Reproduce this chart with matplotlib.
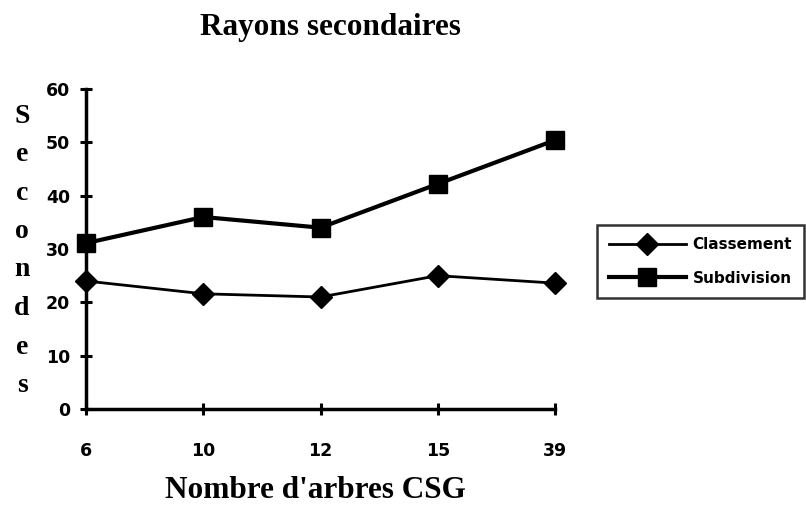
import matplotlib
matplotlib.use("Agg")
import matplotlib.pyplot as plt
from matplotlib.font_manager import FontProperties

categories = ["6", "10", "12", "15", "39"]
classement = [24.0, 21.6, 21.0, 25.0, 23.6]
subdivision = [31.1, 36.0, 34.0, 42.2, 50.4]
y_ticks = [0, 10, 20, 30, 40, 50, 60]
ylabel_letters = list("Secondes")

W, H = 806, 507
fig = plt.figure(figsize=(W / 100, H / 100), dpi=100)
ax = fig.add_axes([86 / W, 98 / H, (555 - 86) / W, (409 - 89) / H])

x = list(range(len(categories)))
ax.plot(x, classement, color="black", lw=2.0, marker="D", markersize=11,
        label="Classement", clip_on=False, zorder=3)
ax.plot(x, subdivision, color="black", lw=3.0, marker="s", markersize=13,
        label="Subdivision", clip_on=False, zorder=3)

ax.set_xlim(0, len(categories) - 1)
ax.set_ylim(0, 60)
ax.set_xticks(x)
ax.set_xticklabels(categories)
ax.set_yticks(y_ticks)

for s in ("top", "right"):
    ax.spines[s].set_visible(False)
for s in ("left", "bottom"):
    ax.spines[s].set_linewidth(2.5)

tick_fp = FontProperties(family="DejaVu Sans", weight="bold", size=12.5)
ax.tick_params(axis="both", direction="inout", length=9, width=2.2)
ax.tick_params(axis="y", pad=7)
ax.tick_params(axis="x", pad=19)
for lab in ax.get_xticklabels() + ax.get_yticklabels():
    lab.set_fontproperties(tick_fp)

fig.text(330 / W, 1 - 28 / H, "Rayons secondaires", ha="center", va="center",
         family="Liberation Serif", weight="bold", size=22.5)
fig.text(315 / W, 1 - 490 / H, "Nombre d'arbres CSG", ha="center", va="center",
         family="Liberation Serif", weight="bold", size=22.5)

y0, step = 116, 38.5
for i, ch in enumerate(ylabel_letters):
    fig.text(22 / W, 1 - (y0 + i * step) / H, ch, ha="center", va="center",
             family="Liberation Serif", weight="bold", size=20)

leg = fig.legend(loc="upper left", bbox_to_anchor=(597 / W, 1 - 225 / H),
                 frameon=True, fancybox=False, edgecolor="black",
                 handlelength=5.0, handletextpad=0.45, borderpad=0.8,
                 labelspacing=1.2, borderaxespad=0,
                 prop=FontProperties(family="DejaVu Sans", weight="bold", size=11))
leg.get_frame().set_linewidth(1.8)

fig.savefig("out.png", dpi=100)
